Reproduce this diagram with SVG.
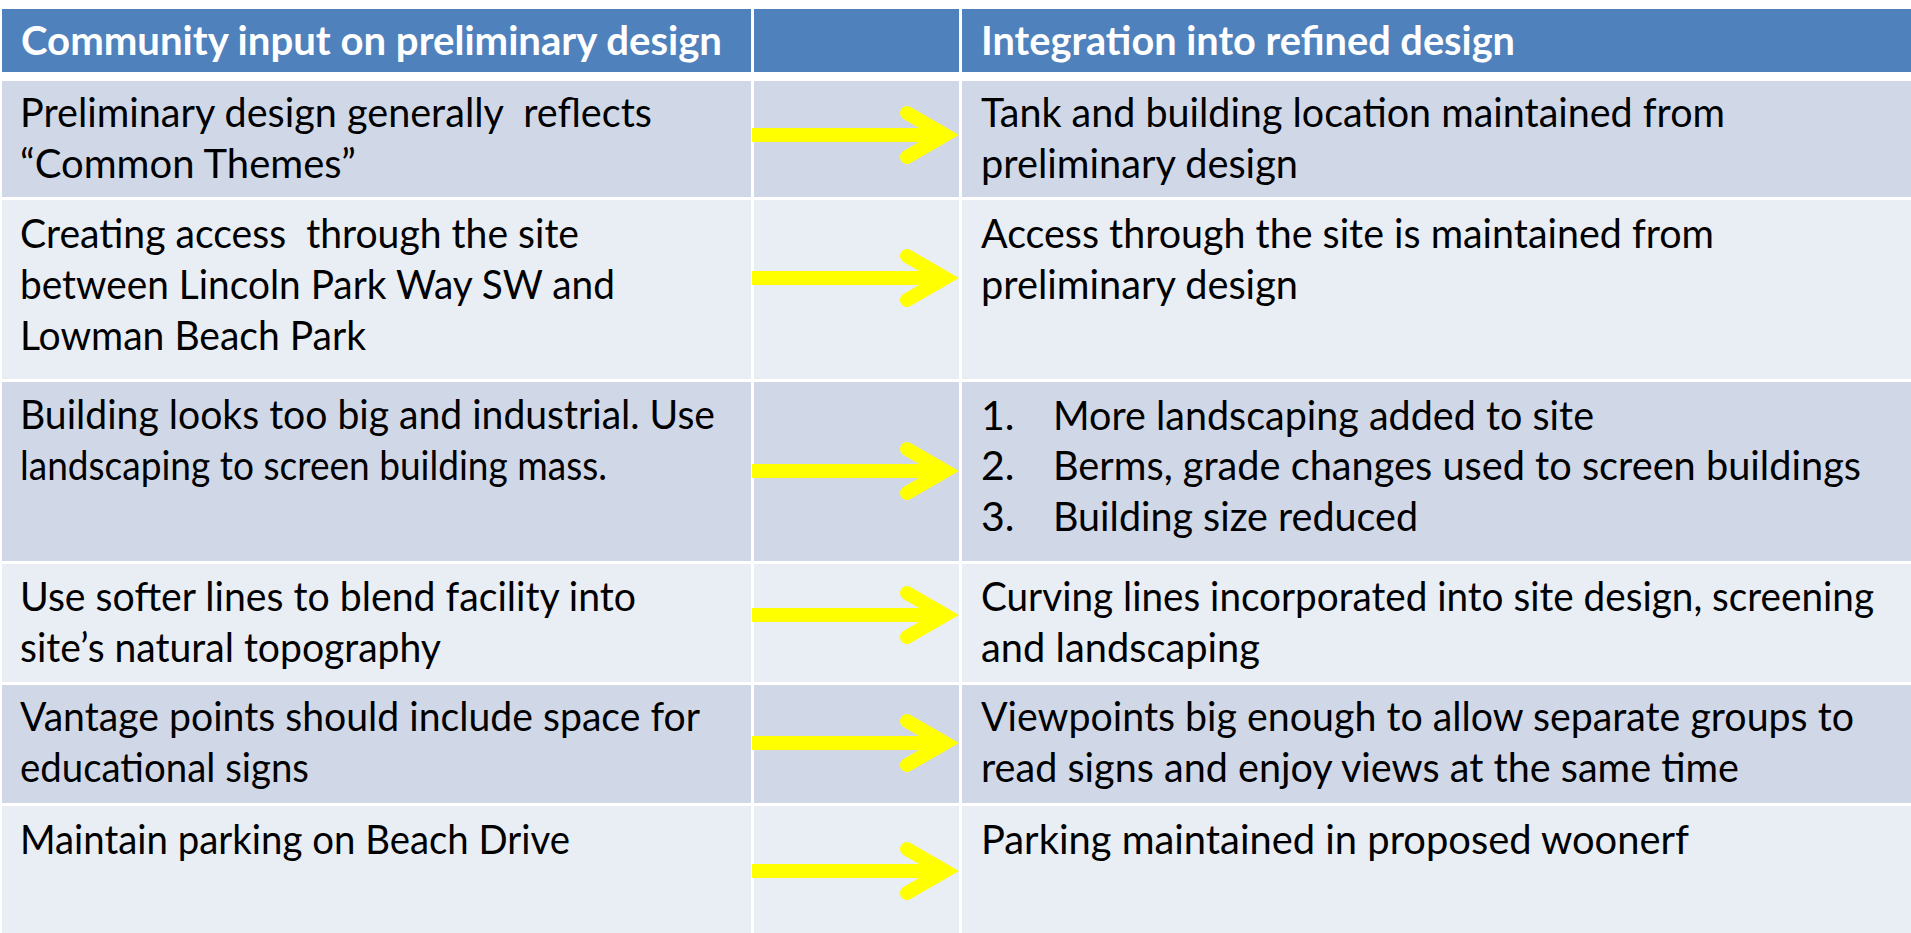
<svg xmlns="http://www.w3.org/2000/svg" xmlns:xlink="http://www.w3.org/1999/xlink" width="1911" height="933" viewBox="0 0 1911 933">
<style>
.hd{fill:#4F81BD}
.odd{fill:#D0D8E8}
.even{fill:#E9EDF4}
.ht{font-family:Lato,"Open Sans","Liberation Sans",sans-serif;font-weight:bold;font-size:41px;fill:#FFFFFF}
.t{font-family:Lato,"Open Sans","Liberation Sans",sans-serif;font-size:41px;fill:#000000}
.bar{fill:none;stroke:#FFFF00;stroke-width:14}
.head{fill:none;stroke:#FFFF00;stroke-width:14;stroke-linecap:round;stroke-linejoin:miter;stroke-miterlimit:10}
</style>
<defs>
<g id="arrow">
<line class="bar" x1="752" y1="0" x2="946" y2="0"/>
<polyline class="head" points="907,-22 945,0 907,22"/>
</g>
</defs>
<rect x="0" y="0" width="1911" height="933" fill="#FFFFFF"/>
<g id="header">
<rect class="hd" x="2" y="9" width="749" height="63"/>
<rect class="hd" x="754" y="9" width="205" height="63"/>
<rect class="hd" x="962" y="9" width="949" height="63"/>
<text class="ht" x="21" y="55" textLength="701" lengthAdjust="spacingAndGlyphs">Community input on preliminary design</text>
<text class="ht" x="981" y="55" textLength="534" lengthAdjust="spacingAndGlyphs">Integration into refined design</text>
</g>
<g id="row1">
<rect class="odd" x="2" y="81" width="749" height="116"/>
<rect class="odd" x="754" y="81" width="205" height="116"/>
<rect class="odd" x="962" y="81" width="949" height="116"/>
<text class="t" x="20" y="127" textLength="632" lengthAdjust="spacingAndGlyphs" xml:space="preserve">Preliminary design generally  reflects</text>
<text class="t" x="20" y="178" textLength="336" lengthAdjust="spacingAndGlyphs">“Common Themes”</text>
<text class="t" x="981" y="127" textLength="744" lengthAdjust="spacingAndGlyphs">Tank and building location maintained from</text>
<text class="t" x="981" y="178" textLength="317" lengthAdjust="spacingAndGlyphs">preliminary design</text>
</g>
<g id="row2">
<rect class="even" x="2" y="200" width="749" height="179"/>
<rect class="even" x="754" y="200" width="205" height="179"/>
<rect class="even" x="962" y="200" width="949" height="179"/>
<text class="t" x="20" y="248" textLength="559" lengthAdjust="spacingAndGlyphs" xml:space="preserve">Creating access  through the site</text>
<text class="t" x="20" y="299" textLength="595" lengthAdjust="spacingAndGlyphs">between Lincoln Park Way SW and</text>
<text class="t" x="20" y="350" textLength="346" lengthAdjust="spacingAndGlyphs">Lowman Beach Park</text>
<text class="t" x="981" y="248" textLength="733" lengthAdjust="spacingAndGlyphs">Access through the site is maintained from</text>
<text class="t" x="981" y="299" textLength="317" lengthAdjust="spacingAndGlyphs">preliminary design</text>
</g>
<g id="row3">
<rect class="odd" x="2" y="382" width="749" height="179"/>
<rect class="odd" x="754" y="382" width="205" height="179"/>
<rect class="odd" x="962" y="382" width="949" height="179"/>
<text class="t" x="20" y="429" textLength="695" lengthAdjust="spacingAndGlyphs">Building looks too big and industrial. Use</text>
<text class="t" x="20" y="480" textLength="587" lengthAdjust="spacingAndGlyphs">landscaping to screen building mass.</text>
<text class="t" x="981" y="430">1.</text>
<text class="t" x="1053" y="430" textLength="541" lengthAdjust="spacingAndGlyphs">More landscaping added to site</text>
<text class="t" x="981" y="480">2.</text>
<text class="t" x="1053" y="480" textLength="808" lengthAdjust="spacingAndGlyphs">Berms, grade changes used to screen buildings</text>
<text class="t" x="981" y="531">3.</text>
<text class="t" x="1053" y="531" textLength="365" lengthAdjust="spacingAndGlyphs">Building size reduced</text>
</g>
<g id="row4">
<rect class="even" x="2" y="564" width="749" height="118"/>
<rect class="even" x="754" y="564" width="205" height="118"/>
<rect class="even" x="962" y="564" width="949" height="118"/>
<text class="t" x="20" y="611" textLength="616" lengthAdjust="spacingAndGlyphs">Use softer lines to blend facility into</text>
<text class="t" x="20" y="662" textLength="421" lengthAdjust="spacingAndGlyphs">site’s natural topography</text>
<text class="t" x="981" y="611" textLength="893" lengthAdjust="spacingAndGlyphs">Curving lines incorporated into site design, screening</text>
<text class="t" x="981" y="662" textLength="279" lengthAdjust="spacingAndGlyphs">and landscaping</text>
</g>
<g id="row5">
<rect class="odd" x="2" y="685" width="749" height="118"/>
<rect class="odd" x="754" y="685" width="205" height="118"/>
<rect class="odd" x="962" y="685" width="949" height="118"/>
<text class="t" x="20" y="731" textLength="680" lengthAdjust="spacingAndGlyphs">Vantage points should include space for</text>
<text class="t" x="20" y="782" textLength="289" lengthAdjust="spacingAndGlyphs">educational signs</text>
<text class="t" x="981" y="731" textLength="873" lengthAdjust="spacingAndGlyphs">Viewpoints big enough to allow separate groups to</text>
<text class="t" x="981" y="782" textLength="758" lengthAdjust="spacingAndGlyphs">read signs and enjoy views at the same time</text>
</g>
<g id="row6">
<rect class="even" x="2" y="806" width="749" height="127"/>
<rect class="even" x="754" y="806" width="205" height="127"/>
<rect class="even" x="962" y="806" width="949" height="127"/>
<text class="t" x="20" y="854" textLength="550" lengthAdjust="spacingAndGlyphs">Maintain parking on Beach Drive</text>
<text class="t" x="981" y="854" textLength="708" lengthAdjust="spacingAndGlyphs">Parking maintained in proposed woonerf</text>
</g>
<g id="connectors">
<use xlink:href="#arrow" transform="translate(0,135)"/>
<use xlink:href="#arrow" transform="translate(0,278)"/>
<use xlink:href="#arrow" transform="translate(0,471)"/>
<use xlink:href="#arrow" transform="translate(0,615)"/>
<use xlink:href="#arrow" transform="translate(0,743)"/>
<use xlink:href="#arrow" transform="translate(0,871)"/>
</g>
</svg>
